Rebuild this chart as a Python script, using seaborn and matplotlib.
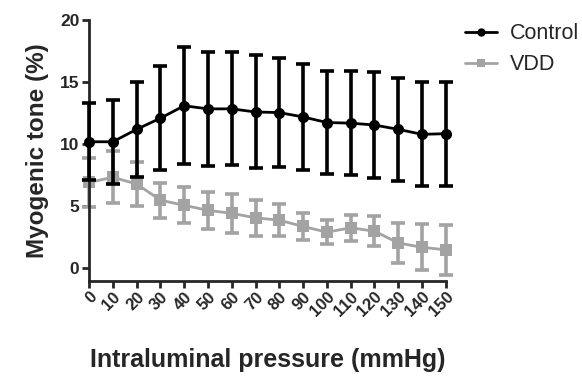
import matplotlib
matplotlib.use("Agg")
import matplotlib.pyplot as plt
import seaborn as sns
import pandas as pd
import numpy as np

pressure = [0, 10, 20, 30, 40, 50, 60, 70, 80, 90, 100, 110, 120, 130, 140, 150]
control_mean = [10.2, 10.2, 11.2, 12.1, 13.1, 12.85, 12.85, 12.6, 12.55, 12.2, 11.75, 11.7, 11.55, 11.2, 10.8, 10.85]
control_err = [3.1, 3.4, 3.8, 4.2, 4.7, 4.6, 4.55, 4.55, 4.4, 4.25, 4.15, 4.2, 4.25, 4.15, 4.2, 4.2]
vdd_mean = [6.93, 7.34, 6.8, 5.5, 5.08, 4.68, 4.43, 4.08, 3.88, 3.38, 2.92, 3.27, 3.0, 2.05, 1.7, 1.5]
vdd_err = [1.95, 2.1, 1.8, 1.4, 1.45, 1.5, 1.55, 1.45, 1.3, 1.1, 0.95, 1.05, 1.2, 1.6, 1.85, 2.0]
x_ticks = pressure
y_ticks = [0, 5, 10, 15, 20]

sns.set_style("ticks")
plt.rcParams['font.family'] = ['Liberation Sans', 'DejaVu Sans']

df = pd.DataFrame({
    "pressure": pressure * 2,
    "tone": control_mean + vdd_mean,
    "err": control_err + vdd_err,
    "group": ["Control"] * len(pressure) + ["VDD"] * len(pressure),
})

fig = plt.figure(figsize=(5.82, 3.79), dpi=100)
ax = fig.add_axes([0.153, 0.259, 0.613, 0.688])

colors = {"Control": "#000000", "VDD": "#a3a3a3"}
markers = {"Control": "o", "VDD": "s"}

# error bars (gray first so black is on top)
for g in ["VDD", "Control"]:
    sub = df[df.group == g]
    ax.errorbar(sub.pressure, sub.tone, yerr=sub.err, fmt="none",
                ecolor=colors[g], elinewidth=2.6, capsize=5, capthick=2.6,
                clip_on=False, zorder=2 if g == "VDD" else 4)

sns.lineplot(data=df, x="pressure", y="tone", hue="group", style="group",
             palette=colors, markers=markers, dashes=False, markersize=8,
             markeredgewidth=0, linewidth=2, ax=ax,
             hue_order=["Control", "VDD"])
for line in ax.lines:
    line.set_clip_on(False)
    if line.get_color() in ("#000000", "k", (0, 0, 0, 1)):
        line.set_zorder(5)

ax.set_xlim(0, 150)
ax.set_ylim(-1, 20)
ax.set_xticks(x_ticks)
ax.set_xticklabels([str(v) for v in x_ticks], rotation=45, ha="right",
                   rotation_mode="anchor", fontweight="bold", fontsize=12)
ax.set_yticks(y_ticks)
ax.set_yticklabels([str(v) for v in y_ticks], fontweight="bold", fontsize=12.5)
ax.tick_params(axis="both", width=2, length=5, direction="out", pad=2)
ax.tick_params(axis="x", pad=1)
for s in ["left", "bottom"]:
    ax.spines[s].set_linewidth(2)
sns.despine(ax=ax)

ax.set_xlabel("Intraluminal pressure (mmHg)", fontsize=18, fontweight="bold", labelpad=21)
ax.set_ylabel("Myogenic tone (%)", fontsize=17.5, fontweight="bold", labelpad=8)

leg = ax.legend(loc="upper left", bbox_to_anchor=(1.03, 1.02), frameon=False,
                fontsize=15.5, handlelength=1.5, handletextpad=0.6,
                labelspacing=0.45, borderaxespad=0)
for h in leg.legend_handles:
    h.set_markersize(6)

fig.savefig("out.png", dpi=100)
